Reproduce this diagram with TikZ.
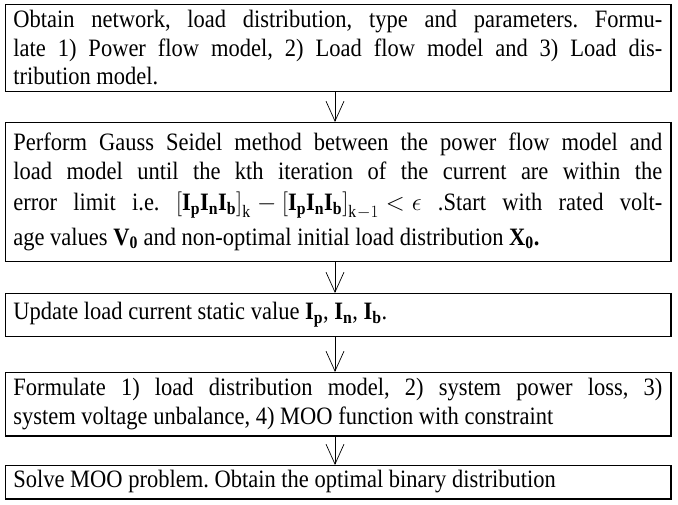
\documentclass[tikz,border=0pt]{standalone}
\usepackage{fontspec}
\setmainfont{Liberation Serif}[FakeStretch=0.9]
\usetikzlibrary{arrows.meta}
\newlength{\boxtw}
\setlength{\boxtw}{649pt}
\newcommand{\bI}[2]{\textbf{#1}\textsubscript{\textbf{#2}}}
\newcommand{\nsp}{\spaceskip=0pt\relax\xspaceskip=0pt\relax}
\newcommand{\jline}[1]{\makebox[\boxtw][s]{\nsp #1}}
\newcommand{\ipnb}{\mbox{\bI{I}{p}\bI{I}{n}\bI{I}{b}}}
\frenchspacing
\medmuskip=4mu\relax
\thickmuskip=5mu\relax
\begin{document}
\begin{tikzpicture}[x=1pt,y=1pt,
  box/.style={draw, line width=0.7pt, anchor=north west, text width=\boxtw,
    inner xsep=8pt, inner ysep=0pt, align=left,
    font=\fontsize{25}{28.5}\selectfont},
  arr/.style={line width=0.7pt, -{Straight Barb[length=20pt,width=18pt]}},
  shadowline/.style={line width=1.6pt}]
\useasboundingbox (0,0) rectangle (678,-505);

\node[box, minimum height=87pt] (b1) at (5,-4) {\nsp
\jline{Obtain network, load distribution, type and parameters. Formu-}\\
\jline{late 1) Power flow model, 2) Load flow model and 3) Load dis-}\\
tribution model.};

\node[box, minimum height=139pt] (b2) at (5,-122) {\nsp
\jline{Perform Gauss Seidel method between the power flow model and}\\
\jline{load model until the kth iteration of the current are within the}\\[3pt]
\jline{error limit i.e. $\bigl[\ipnb\bigr]_{\mathrm{k}}-\bigl[\ipnb\bigr]_{\mathrm{k}-1}<\epsilon$ .Start with rated volt-}\\[6pt]
age values \bI{V}{0} and non-optimal initial load distribution \bI{X}{0}\textbf{.}};

\node[box, minimum height=43pt] (b3) at (5,-293) {\nsp
Update load current static value \bI{I}{p}, \bI{I}{n}, \bI{I}{b}.};

\node[box, minimum height=63pt] (b4) at (5,-372) {\nsp
\jline{Formulate 1) load distribution model, 2) system power loss, 3)}\\
system voltage unbalance, 4) MOO function with constraint};

\node[box, minimum height=33pt] (b5) at (5,-465) {\nsp
Solve MOO problem. Obtain the optimal binary distribution};

\foreach \b in {b1,b2,b3,b4,b5}
  \draw[shadowline] (\b.north east) -- (\b.south east) -- (\b.south west);

\coordinate (ax) at (335,0);
\draw[arr] (b1.south -| ax) -- (b2.north -| ax);
\draw[arr] (b2.south -| ax) -- (b3.north -| ax);
\draw[arr] (b3.south -| ax) -- (b4.north -| ax);
\draw[arr] (b4.south -| ax) -- (b5.north -| ax);
\end{tikzpicture}
\end{document}
